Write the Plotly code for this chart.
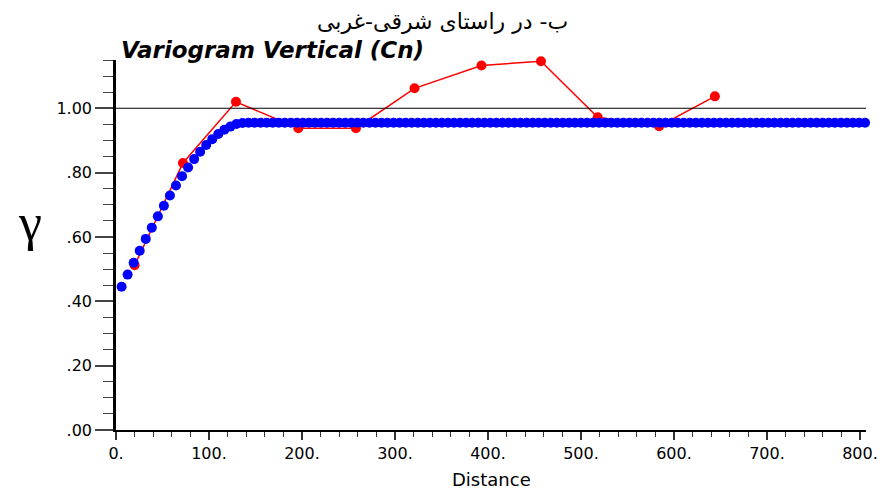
import plotly.graph_objects as go

# Experimental variogram (red)
exp_dist = [20, 72, 129, 196, 258, 321, 393, 457, 518, 584, 644]
exp_gamma = [0.512, 0.830, 1.020, 0.938, 0.938, 1.062, 1.133, 1.146, 0.972, 0.944, 1.037]

# Model variogram (blue)
model_dist = [
    6, 12.5, 19, 25.5, 32, 38.5, 45, 51.5, 58, 64.5,
    71, 77.5, 84, 90.5, 97, 103.5, 110, 116.5, 123, 129.5,
    136, 142.5, 149, 155.5, 162, 168.5, 175, 181.5, 188, 194.5,
    201, 207.5, 214, 220.5, 227, 233.5, 240, 246.5, 253, 259.5,
    266, 272.5, 279, 285.5, 292, 298.5, 305, 311.5, 318, 324.5,
    331, 337.5, 344, 350.5, 357, 363.5, 370, 376.5, 383, 389.5,
    396, 402.5, 409, 415.5, 422, 428.5, 435, 441.5, 448, 454.5,
    461, 467.5, 474, 480.5, 487, 493.5, 500, 506.5, 513, 519.5,
    526, 532.5, 539, 545.5, 552, 558.5, 565, 571.5, 578, 584.5,
    591, 597.5, 604, 610.5, 617, 623.5, 630, 636.5, 643, 649.5,
    656, 662.5, 669, 675.5, 682, 688.5, 695, 701.5, 708, 714.5,
    721, 727.5, 734, 740.5, 747, 753.5, 760, 766.5, 773, 779.5,
    786, 792.5, 799, 805.5,
]
model_gamma = [
    0.445, 0.483, 0.520, 0.557, 0.594, 0.629, 0.664, 0.697, 0.729, 0.760,
    0.789, 0.816, 0.842, 0.865, 0.886, 0.904, 0.920, 0.933, 0.943, 0.951,
    0.954, 0.955, 0.955, 0.955, 0.955, 0.955, 0.955, 0.955, 0.955, 0.955,
    0.955, 0.955, 0.955, 0.955, 0.955, 0.955, 0.955, 0.955, 0.955, 0.955,
    0.955, 0.955, 0.955, 0.955, 0.955, 0.955, 0.955, 0.955, 0.955, 0.955,
    0.955, 0.955, 0.955, 0.955, 0.955, 0.955, 0.955, 0.955, 0.955, 0.955,
    0.955, 0.955, 0.955, 0.955, 0.955, 0.955, 0.955, 0.955, 0.955, 0.955,
    0.955, 0.955, 0.955, 0.955, 0.955, 0.955, 0.955, 0.955, 0.955, 0.955,
    0.955, 0.955, 0.955, 0.955, 0.955, 0.955, 0.955, 0.955, 0.955, 0.955,
    0.955, 0.955, 0.955, 0.955, 0.955, 0.955, 0.955, 0.955, 0.955, 0.955,
    0.955, 0.955, 0.955, 0.955, 0.955, 0.955, 0.955, 0.955, 0.955, 0.955,
    0.955, 0.955, 0.955, 0.955, 0.955, 0.955, 0.955, 0.955, 0.955, 0.955,
    0.955, 0.955, 0.955, 0.955,
]

sill_value = 1.0

x_tickvals = [0, 100, 200, 300, 400, 500, 600, 700, 800]
x_ticktext = ["0.", "100.", "200.", "300.", "400.", "500.", "600.", "700.", "800."]
y_tickvals = [0.0, 0.2, 0.4, 0.6, 0.8, 1.0]
y_ticktext = [".00", ".20", ".40", ".60", ".80", "1.00"]

title_fa = "ب- در راستای شرقی-غربی"
title_plot = "Variogram Vertical (Cn)"
x_title = "Distance"
y_symbol = "γ"

fig = go.Figure()

fig.add_trace(go.Scatter(
    x=exp_dist, y=exp_gamma, mode="lines+markers",
    line=dict(color="#ff0000", width=1.5),
    marker=dict(color="#ff0000", size=10),
    cliponaxis=False, showlegend=False,
))
fig.add_trace(go.Scatter(
    x=model_dist, y=model_gamma, mode="markers",
    marker=dict(color="#0000ff", size=10),
    cliponaxis=False, showlegend=False,
))

fig.add_shape(type="line", xref="paper", yref="y", x0=0, x1=1,
              y0=sill_value, y1=sill_value, line=dict(color="black", width=1))

tick_font = dict(family="DejaVu Sans", size=16, color="black")

fig.update_xaxes(
    range=[0, 806.5], showgrid=False, zeroline=False, automargin=False,
    showline=True, linecolor="black", linewidth=2,
    tickvals=x_tickvals, ticktext=x_ticktext,
    ticks="outside", ticklen=8, tickcolor="#333", tickwidth=1.5,
    minor=dict(dtick=20, ticks="outside", ticklen=5, tickcolor="#333", tickwidth=1.2),
    tickfont=tick_font, ticklabeloverflow="allow",
)
fig.update_yaxes(
    range=[0, 1.15], showgrid=False, zeroline=False, automargin=False,
    showline=True, linecolor="black", linewidth=2.5,
    tickvals=y_tickvals, ticktext=y_ticktext,
    ticks="outside", ticklen=18, tickcolor="#444", tickwidth=1.5,
    minor=dict(dtick=0.05, ticks="outside", ticklen=10, tickcolor="#444", tickwidth=1.2),
    tickfont=tick_font,
)

fig.add_annotation(text=title_fa, xref="paper", yref="paper", x=0.435, y=1.103,
                   xanchor="center", yanchor="middle", showarrow=False,
                   font=dict(family="DejaVu Sans", size=22, color="black"))
fig.add_annotation(text="<b><i>" + title_plot + "</i></b>", xref="paper", yref="paper",
                   x=0.004, y=1.027, xanchor="left", yanchor="middle", showarrow=False,
                   font=dict(family="DejaVu Sans", size=23, color="black"))
fig.add_annotation(text=x_title, xref="paper", yref="paper", x=0.5, y=-0.135,
                   xanchor="center", yanchor="middle", showarrow=False,
                   font=dict(family="DejaVu Sans", size=18, color="black"))
fig.add_annotation(text=y_symbol, xref="paper", yref="paper", x=-0.115, y=0.561,
                   xanchor="center", yanchor="middle", showarrow=False,
                   font=dict(family="Liberation Serif", size=52, color="black"))

fig.update_layout(
    width=880, height=491,
    margin=dict(l=116, r=14, t=60, b=61),
    paper_bgcolor="white", plot_bgcolor="white",
    showlegend=False,
)

fig.write_html(
    "out.html",
    config={"displayModeBar": False},
    post_script="document.body.style.margin='0';document.body.style.overflow='hidden';",
)
